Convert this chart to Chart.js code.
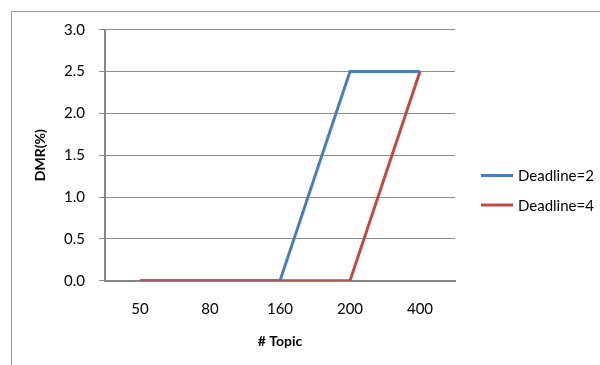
<!DOCTYPE html>
<html>
<head>
<meta charset="utf-8">
<script src="https://cdn.jsdelivr.net/npm/chart.js@4/dist/chart.umd.min.js"></script>
<style>
html,body{margin:0;padding:0;background:#fff;}
#wrap{width:600px;height:365px;}
</style>
</head>
<body>
<div id="wrap"><canvas id="c" width="600" height="365"></canvas></div>
<script>
const categories = ['50', '80', '160', '200', '400'];
const deadline2 = [0, 0, 0, 2.5, 2.5];
const deadline4 = [0, 0, 0, 0, 2.5];
const seriesLabels = ['Deadline=2', 'Deadline=4'];
const seriesColors = ['#4A7EBB', '#BE4B48'];
const yTitle = 'DMR(%)';
const xTitle = '# Topic';

const FONT = 'Lato, "Open Sans", sans-serif';

const outerBorder = {
  id: 'outerBorder',
  beforeDraw(chart) {
    const ctx = chart.ctx;
    ctx.save();
    ctx.fillStyle = '#fff';
    ctx.fillRect(0, 0, chart.width, chart.height);
    ctx.strokeStyle = '#9a9a9a';
    ctx.lineWidth = 1;
    ctx.strokeRect(11.5, 11.5, 800, 800);
    ctx.restore();
  }
};

const sideLegend = {
  id: 'sideLegend',
  afterDraw(chart) {
    const ctx = chart.ctx;
    ctx.save();
    const ys = [175.5, 205];
    chart.data.datasets.slice().sort((a, b) => a.legendIndex - b.legendIndex).forEach((ds, i) => {
      ctx.strokeStyle = ds.borderColor;
      ctx.lineWidth = 3;
      ctx.beginPath();
      ctx.moveTo(481, ys[i]);
      ctx.lineTo(513, ys[i]);
      ctx.stroke();
      ctx.fillStyle = '#000';
      ctx.font = '15px ' + FONT;
      ctx.textBaseline = 'middle';
      ctx.textAlign = 'left';
      ctx.fillText(ds.label, 518, ys[i] + 1);
    });
    ctx.restore();
  }
};

new Chart(document.getElementById('c'), {
  type: 'line',
  data: {
    labels: categories,
    datasets: [
      { label: seriesLabels[0], data: deadline2, borderColor: seriesColors[0], backgroundColor: seriesColors[0],
        borderWidth: 3, pointRadius: 0, tension: 0, fill: false, order: 1, legendIndex: 0 },
      { label: seriesLabels[1], data: deadline4, borderColor: seriesColors[1], backgroundColor: seriesColors[1],
        borderWidth: 3, pointRadius: 0, tension: 0, fill: false, order: 0, legendIndex: 1 }
    ]
  },
  options: {
    responsive: false,
    animation: false,
    devicePixelRatio: 1,
    layout: { padding: { left: 0, top: 29.7, right: 145, bottom: 4.3 } },
    plugins: { legend: { display: false }, tooltip: { enabled: false } },
    scales: {
      x: {
        type: 'category',
        offset: true,
        grid: { display: false, drawTicks: false },
        border: { display: true, color: '#868686', width: 2 },
        ticks: { color: '#000', font: { family: FONT, size: 15 }, padding: 19, maxRotation: 0 },
        title: { display: true, text: xTitle, color: '#000', font: { family: FONT, size: 14, weight: 'bold' }, padding: { top: 0, bottom: 11.3 } },
        afterFit(s) { s.height = 80; }
      },
      y: {
        min: 0, max: 3,
        grid: { color: '#8c8c8c', lineWidth: 1, tickLength: 6, drawTicks: true },
        border: { display: true, color: '#868686', width: 2 },
        ticks: { stepSize: 0.5, color: '#000', font: { family: FONT, size: 15 }, padding: 14,
          callback: v => Number(v).toFixed(1) },
        title: { display: true, text: yTitle, color: '#000', font: { family: FONT, size: 14, weight: 'bold' }, padding: { top: 31.6, bottom: 0 } },
        afterFit(s) { s.width = 105; }
      }
    }
  },
  plugins: [outerBorder, sideLegend]
});
</script>
</body>
</html>
